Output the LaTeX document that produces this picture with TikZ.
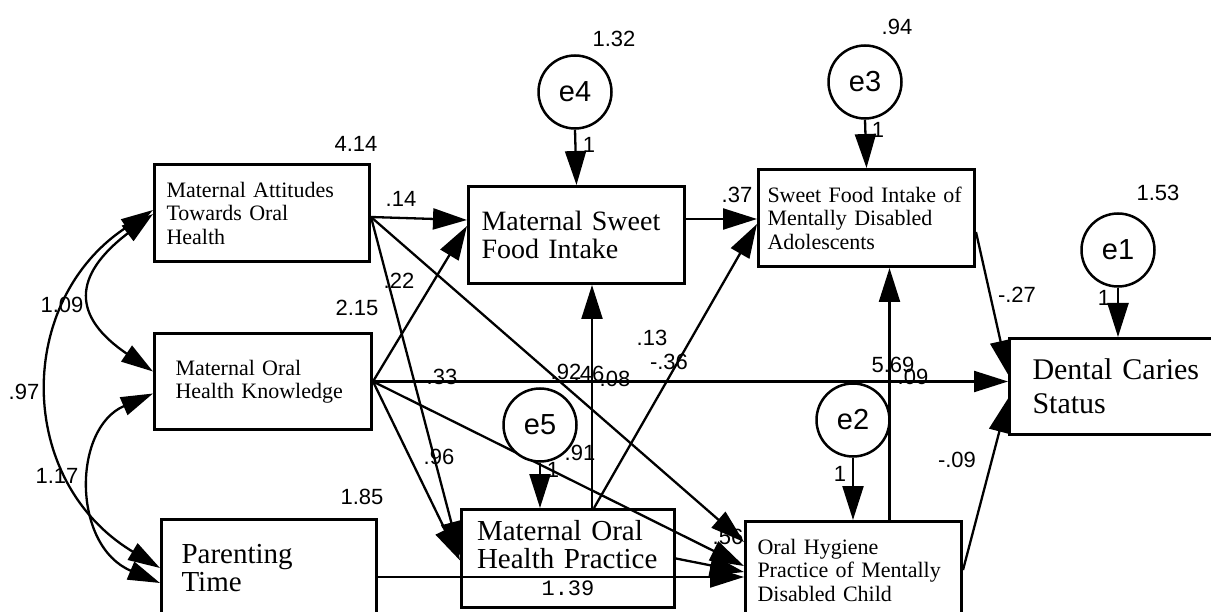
\documentclass[tikz,border=0pt]{standalone}
\usepackage{fontspec}
\usepackage{tikz}
\usetikzlibrary{arrows.meta,backgrounds}
\newfontfamily\boxfont{Liberation Serif}
\newfontfamily\numfont{Liberation Sans}
\newfontfamily\varfont{Liberation Mono}
\tikzset{
	smallbox/.style 2 args={draw,line width=3pt,anchor=north west,inner sep=0pt,minimum width=#1,minimum height=97pt,text width=#2,align=left,font=\boxfont\fontsize{22}{23.5}\selectfont},
	bigbox/.style 2 args={draw,line width=3pt,anchor=north west,inner sep=0pt,minimum width=#1,minimum height=97pt,text width=#2,align=left,font=\boxfont\fontsize{29}{27.5}\selectfont},
	err/.style={circle,draw,line width=2.5pt,fill=white,minimum size=73pt,inner sep=0pt,font=\numfont\fontsize{29}{29}\selectfont},
	num/.style={inner sep=0pt,font=\numfont\fontsize{22}{22}\selectfont},
	reg/.style={line width=2.3pt,-{Triangle[length=34pt,width=21pt]}},
	cov/.style={line width=2.3pt,{Triangle[length=32pt,width=19pt]}-{Triangle[length=32pt,width=19pt]}}
}

\begin{document}
\begin{tikzpicture}[x=1pt,y=-1pt]
	\useasboundingbox (0,0) rectangle (1211,612);
	\clip (0,0) rectangle (1211,612);

	\node [smallbox={215pt}{191pt}] (att) at (153,163) {Maternal Attitudes\\Towards Oral\\Health};
	\node [smallbox={217pt}{175pt},minimum height=96pt] (know) at (153,332) {Maternal Oral\\Health Knowledge};
	\node [bigbox={215pt}{175pt}] (ptime) at (160,518) {Parenting\\Time};
	\node [bigbox={216pt}{190pt},font=\boxfont\fontsize{28}{27.5}\selectfont] (sweet) at (467,185) {Maternal Sweet\\Food Intake};
	\node [smallbox={216pt}{198pt}] (sweetchild) at (757,168) {Sweet Food Intake of\\Mentally Disabled\\Adolescents};
	\node [bigbox={213pt}{182pt},minimum height=98pt] (mprac) at (460,508) {Maternal Oral\\Health Practice\\\makebox[182pt]{\varfont\fontsize{22}{22}\selectfont 1.39}};
	\node [smallbox={216pt}{192pt}] (ohyg) at (744,520) {Oral Hygiene\\Practice of Mentally\\Disabled Child};
	\node [bigbox={216pt}{170pt},minimum height=96pt,font=\boxfont\fontsize{30}{34}\selectfont] (caries) at (1008,337) {Dental Caries\\Status};

	\node [err] (e4) at (575,92) {e4};
	\node [err] (e3) at (865,82) {e3};
	\node [err] (e1) at (1118,250) {e1};
	\node [err] (e5) at (540,425) {e5};
	\node [err] (e2) at (853,420) {e2};

	\begin{scope}[on background layer]
		\fill [white] (0,0) rectangle (1211,612);
		\draw [reg] ([yshift=-4pt]att.east) -- ([yshift=15pt]sweet.west);
		\draw [reg] ([yshift=-4pt]att.east) -- ([yshift=3pt]mprac.west);
		\draw [reg] ([yshift=-4pt]att.east) -- ([yshift=28pt]ohyg.west);
		\draw [reg] (know.east) -- ([yshift=9pt]sweet.west);
		\draw [reg] (know.east) -- (know.east -| caries.west);
		\draw [reg] (know.east) -- ([yshift=-2pt]mprac.west);
		\draw [reg] (know.east) -- ([yshift=4pt]ohyg.west);
		\draw [reg] ([yshift=-9pt]ptime.east) -- ([yshift=-9pt]ptime.east -| ohyg.west);
		\draw [reg] (mprac.east) -- ([yshift=-2pt]ohyg.west);
		\draw [reg] ([xshift=24pt]mprac.north) -- ([xshift=24pt]mprac.north |- sweet.south);
		\draw [reg] ([xshift=26pt]mprac.north) -- ([yshift=-6pt]sweetchild.west);
		\draw [reg] ([yshift=16pt]sweet.east) -- ([yshift=16pt]sweet.east -| sweetchild.west);
		\draw [reg] ([yshift=-14pt]sweetchild.east) -- ([yshift=12pt]caries.west);
		\draw [reg] ([xshift=36pt]ohyg.north) -- ([xshift=36pt]ohyg.north |- sweetchild.south);
		\draw [reg] (ohyg.east) -- ([yshift=-12pt]caries.west);
		\draw [reg] (e4.south) -- (sweet.north);
		\draw [reg] (e3.south) -- (sweetchild.north);
		\draw [reg] (e1.south) -- (e1.south |- caries.north);
		\draw [reg] (e2.south) -- (e2.south |- ohyg.north);
		\draw [reg] (e5.south) -- (e5.south |- mprac.north);
		\draw [cov] ([yshift=-1pt]att.west) .. controls +(-81,62) and +(-81,-55) .. ([yshift=10pt]know.west);
		\draw [cov] ([yshift=-12pt]know.west) .. controls +(-81,35) and +(-88,-37) .. ([yshift=-15pt]ptime.west);
		\draw [cov] ([yshift=3pt]att.west) .. controls +(-138,90) and +(-145,-87) .. (ptime.west);
	\end{scope}

	\node [num] (vatt) at (356,144) {4.14};
	\node [num] (vknow) at (357,308) {2.15};
	\node [num] (vptime) at (362,497) {1.85};
	\node [num] (ve4) at (614,39) {1.32};
	\node [num] (ve3) at (897,27) {.94};
	\node [num] (ve1) at (1158,193) {1.53};
	\node [num] (ve2) at (893,365) {5.69};
	\node [num] (ve5) at (566,372) {.92};
	\node [num] (c1) at (62,305) {1.09};
	\node [num] (c2) at (24,392) {.97};
	\node [num] (c3) at (57,476) {1.17};
	\node [num] (p1) at (401,199) {.14};
	\node [num] (p2) at (399,281) {.22};
	\node [num] (p3) at (442,377) {.33};
	\node [num] (p4) at (439,457) {.96};
	\node [num] (p5) at (580,453) {.91};
	\node [num] (p6) at (652,338) {.13};
	\node [num] (p7) at (669,362) {-.36};
	\node [num] (p8) at (615,379) {.08};
	\node [num] (p9) at (589,374) {.46};
	\node [num] (p10) at (737,195) {.37};
	\node [num] (p11) at (1017,295) {-.27};
	\node [num] (p12) at (957,460) {-.09};
	\node [num] (p13) at (913,377) {.09};
	\node [num] (p14) at (728,537) {.56};
	\node [num] (w4) at (589,145) {1};
	\node [num] (w3) at (878,130) {1};
	\node [num] (w1) at (1104,298) {1};
	\node [num] (w2) at (840,474) {1};
	\node [num] (w5) at (553,470) {1};
\end{tikzpicture}
\end{document}
